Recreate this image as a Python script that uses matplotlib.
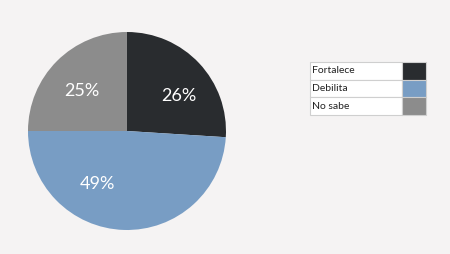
import matplotlib.pyplot as plt

labels = ['Fortalece', 'Debilita', 'No sabe']
values = [26, 49, 25]
colors = ['#292c2f', '#789dc4', '#8c8c8c']

# where the percentage labels sit (fraction of radius), as in the original
label_pos = [(0.525, 0.35), (-0.30, -0.54), (-0.46, 0.40)]

bg = '#f5f3f3'
fig = plt.figure(figsize=(4.5, 2.54), dpi=100, facecolor=bg)

# pie
ax = fig.add_axes([0.0622, 0.0945, 0.44, 0.7795])
ax.set_facecolor(bg)
wedges, texts, autotexts = ax.pie(values, colors=colors, startangle=90, counterclock=False,
                                  autopct='%d%%', radius=1)
for t, (x, y) in zip(autotexts, label_pos):
    t.set_position((x, y))
    t.set_color('white')
    t.set_fontsize(13)
    t.set_family('Lato')
ax.set_xlim(-1, 1)
ax.set_ylim(-1, 1)
ax.set_aspect('equal')
ax.axis('off')

# legend as a small table
lax = fig.add_axes([310 / 450, 1 - 115 / 254, 116 / 450, 53 / 254])
lax.axis('off')
tbl = lax.table(cellText=[[l, ''] for l in labels],
                cellColours=[['white', c] for c in colors],
                colWidths=[92 / 116, 24 / 116], bbox=[0, 0, 1, 1], cellLoc='left')
tbl.auto_set_font_size(False)
for (r, c), cell in tbl.get_celld().items():
    cell.set_edgecolor('#cfcfcf')
    cell.set_linewidth(0.8)
    cell.get_text().set_fontsize(7.5)
    cell.get_text().set_color('#222222')
    cell.get_text().set_family('Lato')
    cell.PAD = 0.02

fig.savefig('out.png', dpi=100, facecolor=bg)
